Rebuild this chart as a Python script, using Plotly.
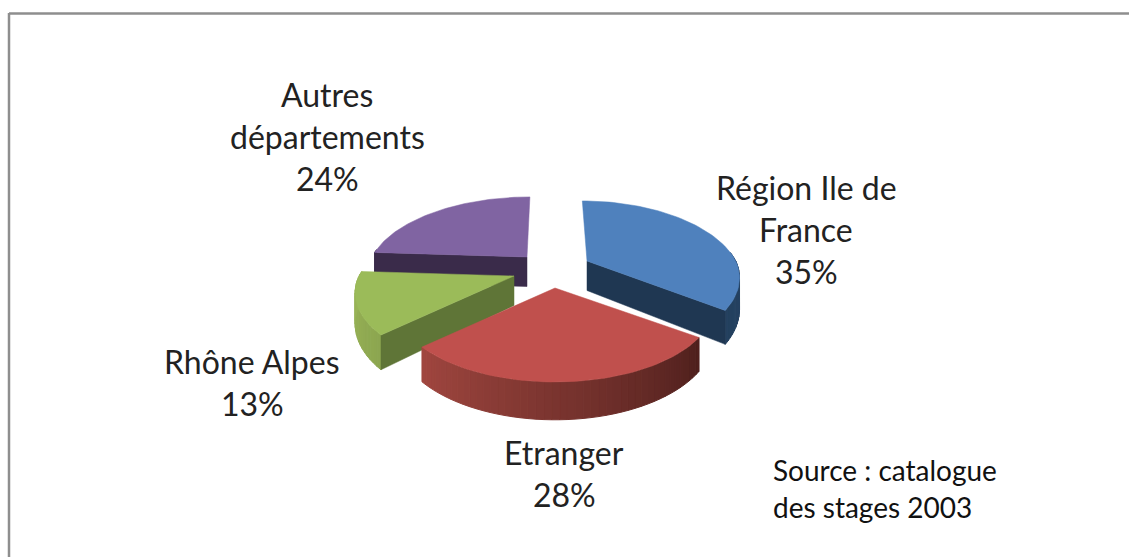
import math
import plotly.graph_objects as go

# --- data ---
categories = ["Région Ile de France", "Etranger", "Rhône Alpes", "Autres départements"]
values = [35, 28, 13, 24]
label_lines = [["Région Ile de", "France"], ["Etranger"], ["Rhône Alpes"], ["Autres", "départements"]]
source_lines = ["Source : catalogue", "des stages 2003"]

# --- style / layout ---
W, H = 1129, 557
A, B, P, DEPTH, VX = 155.0, 73.3, 0.22, 29.5, 550.0
TIPS = [(587, 261), (555, 288), (514, 276), (527, 257)]
WIDTH_SCALE = [0.96, 1.0, 1.0, 1.0]
LABEL_POS = [(806, 187), (564, 452), (252, 361), (327, 94)]
TOP = ["#4f81bd", "#c0504d", "#9bbb59", "#8064a2"]
CUT = ["#1f3752", "#5a2422", "#5f7537", "#3a2b4a"]
WALL_FROM = ["#2c4c70", "#a0463f", "#8ca650", "#3a2b4a"]
WALL_TO = ["#24405f", "#4f201d", "#9bb658", "#3a2b4a"]
DRAW_ORDER = [3, 0, 2, 1]
TEXT = "#222222"
FONT = "Lato, Calibri, sans-serif"
LINE_GAP = 42


def project(tip, theta, z=0.0, scale=1.0):
    w = 1 + P * math.cos(theta)
    x = tip[0] + scale * A * math.sin(theta) / w + 0.7 * (tip[0] - VX) * (1 / max(w, 1) - 1)
    y = tip[1] - B * math.cos(theta) / w + z / w
    return x, y


def mix(c1, c2, t):
    a = [int(c1[i:i + 2], 16) for i in (1, 3, 5)]
    b = [int(c2[i:i + 2], 16) for i in (1, 3, 5)]
    return "#%02x%02x%02x" % tuple(round(a[i] + (b[i] - a[i]) * t) for i in range(3))


def poly(points, color, lw=1.0):
    xs = [p[0] for p in points] + [points[0][0]]
    ys = [p[1] for p in points] + [points[0][1]]
    return go.Scatter(x=xs, y=ys, mode="lines", fill="toself", fillcolor=color,
                      line=dict(color=color, width=lw), hoverinfo="skip", showlegend=False)


total = sum(values)
bounds = [0.0]
for v in values:
    bounds.append(bounds[-1] + v / total * 2 * math.pi)

fig = go.Figure()
for i in DRAW_ORDER:
    tip, t0, t1, s = TIPS[i], bounds[i], bounds[i + 1], WIDTH_SCALE[i]
    n = max(8, int(values[i] * 1.6))
    # outer wall, as shaded strips; only the part that faces the viewer
    for k in range(n):
        a0 = t0 + (t1 - t0) * k / n
        a1 = t0 + (t1 - t0) * (k + 1) / n
        if math.cos((a0 + a1) / 2) > 0.1:
            continue
        t = k / (n - 1)
        if i == 1:
            t = 1 - t  # clockwise angle runs right to left on the front
        fig.add_trace(poly([project(tip, a0, 0, s), project(tip, a1, 0, s),
                            project(tip, a1, DEPTH, s), project(tip, a0, DEPTH, s)],
                           mix(WALL_FROM[i], WALL_TO[i], t)))
    # visible radial cut
    if i != 1:
        cut = t1 if i == 0 else t0
        fig.add_trace(poly([tip, project(tip, cut, 0, s), project(tip, cut, DEPTH, s),
                            (tip[0], tip[1] + DEPTH)], CUT[i], 0.5))
    # top face
    arc = [project(tip, t0 + (t1 - t0) * k / 60, 0, s) for k in range(61)]
    fig.add_trace(poly([tip] + arc, TOP[i], 0.5))

annotations = []
for i, lines in enumerate(label_lines):
    x, y = LABEL_POS[i]
    for j, text in enumerate(lines + [f"{values[i]}%"]):
        annotations.append(dict(x=x, y=y + j * LINE_GAP, text=text, showarrow=False,
                                xanchor="center", yanchor="middle",
                                font=dict(family=FONT, size=32, color=TEXT)))
for j, text in enumerate(source_lines):
    annotations.append(dict(x=771, y=470 + j * 37, text=text, showarrow=False,
                            xanchor="left", yanchor="middle",
                            font=dict(family=FONT, size=28, color="#111111")))

fig.update_layout(
    width=W, height=H, margin=dict(l=0, r=0, t=0, b=0),
    paper_bgcolor="white", plot_bgcolor="white", showlegend=False,
    xaxis=dict(range=[0, W], visible=False, fixedrange=True),
    yaxis=dict(range=[H, 0], visible=False, fixedrange=True),
    annotations=annotations,
    shapes=[
        dict(type="line", x0=9, y0=13.5, x1=W, y1=13.5, line=dict(color="#8e8e8e", width=2.5)),
        dict(type="line", x0=9, y0=13, x1=9, y1=H, line=dict(color="#8e8e8e", width=2.5)),
    ],
)
fig.write_html("out.html", config=dict(displayModeBar=False),
               post_script="document.body.style.margin='0';document.body.style.overflow='hidden';")
